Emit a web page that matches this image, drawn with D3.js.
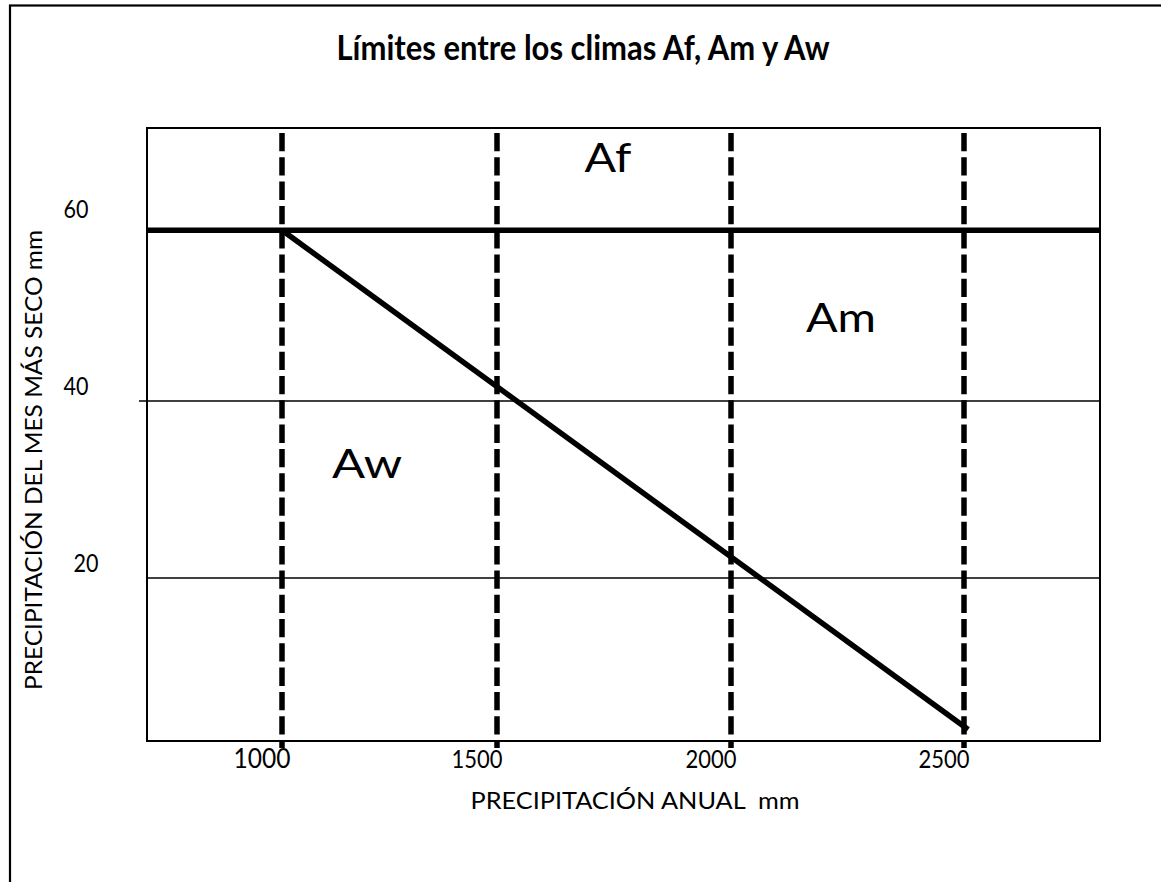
<!DOCTYPE html>
<html>
<head>
<meta charset="utf-8">
<script src="https://cdn.jsdelivr.net/npm/d3@7"></script>
<style>
  html, body { margin: 0; padding: 0; background: #fff; }
  text { font-family: Lato, "Open Sans", sans-serif; fill: #000; }
</style>
</head>
<body>
<svg id="chart" width="1161" height="882"></svg>
<script>
// ---- data ----
const title = "Límites entre los climas Af, Am y Aw";
const xTitle = "PRECIPITACIÓN ANUAL  mm";
const yTitle = "PRECIPITACIÓN DEL MES MÁS SECO mm";
const xTicks = [1000, 1500, 2000, 2500];
const yTicks = [20, 40, 60];
const dashedLimits = [1000, 1500, 2000, 2500];          // vertical dashed limits (mm/year)
const afLimit = 59.3;                                   // Af boundary (mm in driest month)
const gridValues = [20, 40];                            // thin horizontal lines
const amAwBoundary = [{p: 1000, d: 59.3}, {p: 2509, d: 2.9}];
const regionLabels = [
  {label: "Af", p: 1737, d: 65.9},
  {label: "Am", p: 2236, d: 47.8},
  {label: "Aw", p: 1198, d: 31.3}
];
const xDomain = [686, 1000, 1500, 2000, 2500, 2792];
const yDomain = [1.6, 70.85];

// ---- layout ----
const svg = d3.select("#chart");
const plot = {left: 147, right: 1100, top: 128, bottom: 741};

const x = d3.scaleLinear().domain(xDomain)
  .range([147, 282, 497, 731, 964, 1100]);
const y = d3.scaleLinear().domain(yDomain).range([plot.bottom, plot.top]);

// outer frame
svg.append("rect")
  .attr("x", 10).attr("y", 5.5)
  .attr("width", 1200).attr("height", 920)
  .attr("fill", "none").attr("stroke", "#000").attr("stroke-width", 2.2);

// title
svg.append("text")
  .attr("x", 583).attr("y", 60)
  .attr("text-anchor", "middle")
  .attr("font-weight", "bold")
  .attr("font-size", 34)
  .attr("textLength", 493)
  .attr("lengthAdjust", "spacingAndGlyphs")
  .text(title);

// thin gridlines
svg.selectAll("line.grid").data(gridValues).enter().append("line")
  .attr("class", "grid")
  .attr("x1", d => d === 40 ? plot.left - 8 : plot.left)
  .attr("x2", plot.right)
  .attr("y1", d => y(d)).attr("y2", d => y(d))
  .attr("stroke", "#000").attr("stroke-width", 1.5);

// plot frame
svg.append("rect")
  .attr("x", plot.left).attr("y", plot.top)
  .attr("width", plot.right - plot.left).attr("height", plot.bottom - plot.top)
  .attr("fill", "none").attr("stroke", "#000").attr("stroke-width", 2);

// dashed verticals
svg.selectAll("line.dash").data(dashedLimits).enter().append("line")
  .attr("class", "dash")
  .attr("x1", d => x(d)).attr("x2", d => x(d))
  .attr("y1", plot.top + 5).attr("y2", plot.bottom + 7)
  .attr("stroke", "#000").attr("stroke-width", 5.5)
  .attr("stroke-dasharray", "18.3,6");

// Af limit thick line
svg.append("line")
  .attr("x1", plot.left).attr("x2", plot.right)
  .attr("y1", y(afLimit)).attr("y2", y(afLimit))
  .attr("stroke", "#000").attr("stroke-width", 5.5);

// Am/Aw diagonal
svg.append("path")
  .datum(amAwBoundary)
  .attr("d", d3.line().x(d => x(d.p)).y(d => y(d.d)))
  .attr("fill", "none").attr("stroke", "#000").attr("stroke-width", 5.5);

// region labels
regionLabels.forEach(r => {
  svg.append("text")
    .attr("x", x(r.p)).attr("y", y(r.d))
    .attr("text-anchor", "middle")
    .attr("font-size", 41)
    .attr("textLength", r.label === "Af" ? 47 : 70)
    .attr("lengthAdjust", "spacingAndGlyphs")
    .text(r.label);
});

// x tick labels
svg.selectAll("text.xt").data(xTicks).enter().append("text")
  .attr("class", "xt")
  .attr("x", d => x(d) - 20).attr("y", 768)
  .attr("text-anchor", "middle")
  .attr("font-size", (d, i) => i === 0 ? 27 : 25)
  .attr("textLength", (d, i) => i === 0 ? 57 : 51)
  .attr("lengthAdjust", "spacingAndGlyphs")
  .text(d => d);

// y tick labels
svg.selectAll("text.yt").data(yTicks).enter().append("text")
  .attr("class", "yt")
  .attr("x", d => d === 20 ? 86 : 76).attr("y", d => y(d) - 6)
  .attr("text-anchor", "middle")
  .attr("font-size", 25)
  .attr("textLength", 25)
  .attr("lengthAdjust", "spacingAndGlyphs")
  .text(d => d);

// axis titles
svg.append("text")
  .attr("x", 635).attr("y", 809)
  .attr("text-anchor", "middle")
  .attr("font-size", 23)
  .attr("textLength", 329)
  .attr("lengthAdjust", "spacingAndGlyphs")
  .style("white-space", "pre")
  .text(xTitle);

svg.append("text")
  .attr("transform", "translate(42,460) rotate(-90)")
  .attr("text-anchor", "middle")
  .attr("font-size", 23)
  .attr("textLength", 460)
  .attr("lengthAdjust", "spacingAndGlyphs")
  .text(yTitle);
</script>
</body>
</html>
